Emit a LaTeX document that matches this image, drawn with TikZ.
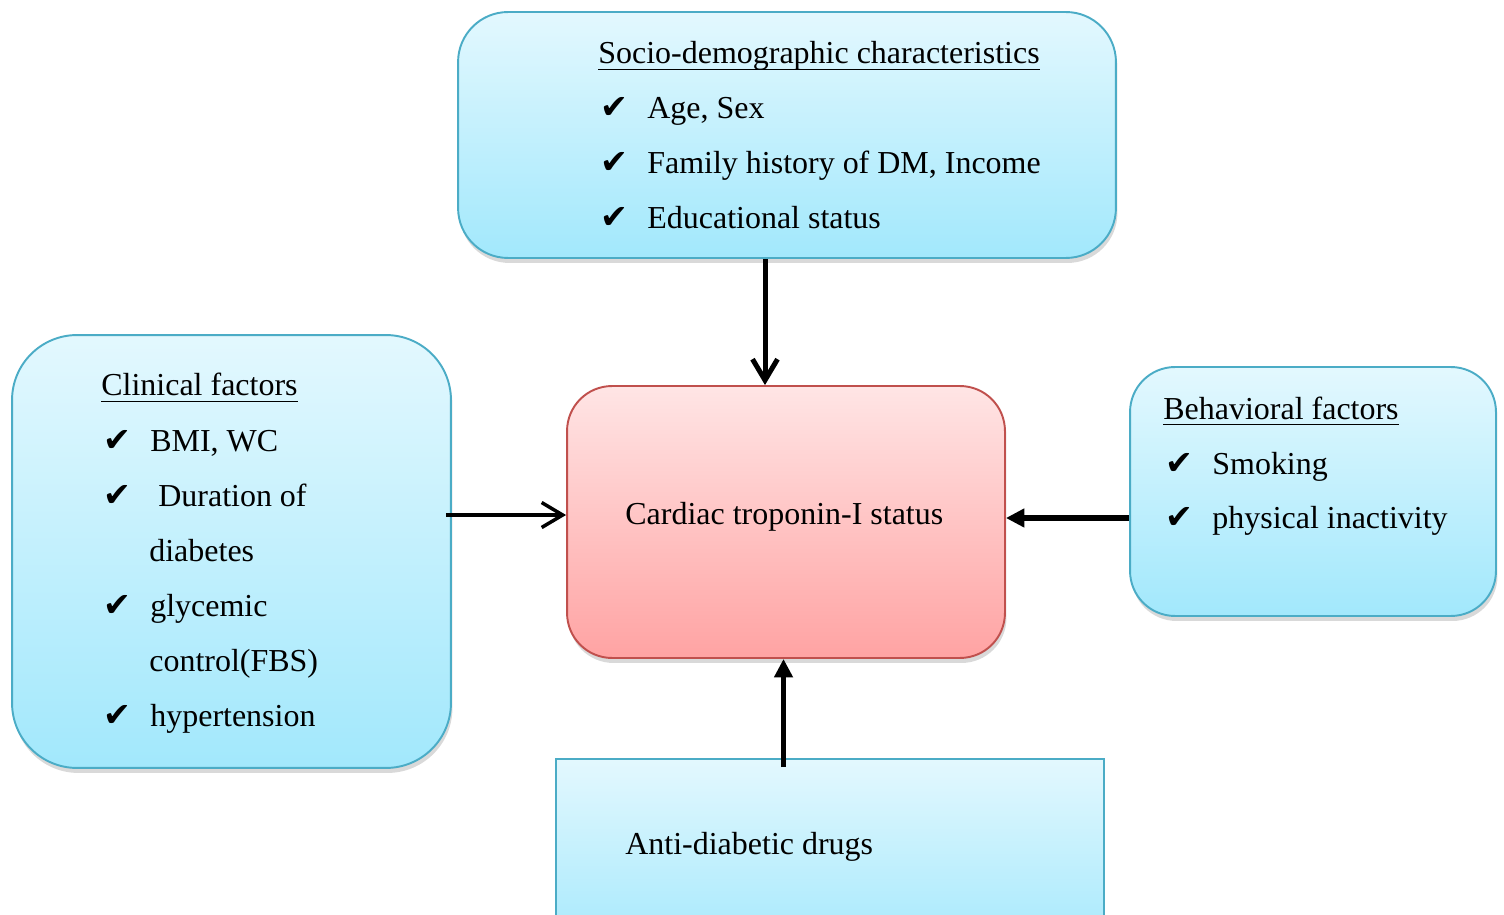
\documentclass[tikz,border=0pt]{standalone}
\usepackage{fontspec}
\setmainfont{Liberation Serif}
\newfontfamily\symf{DejaVu Sans}
\usetikzlibrary{arrows.meta,shadows}

\definecolor{bluetop}{HTML}{E3F8FE}
\definecolor{bluebot}{HTML}{A2E8FC}
\definecolor{blueline}{HTML}{4BACC6}
\definecolor{redtop}{HTML}{FFE5E5}
\definecolor{redbot}{HTML}{FFA3A3}
\definecolor{redline}{HTML}{C0504D}

\newcommand{\tick}{\makebox[0.94cm][l]{\fontsize{19}{19}\symf ✔}}
\newcommand{\hdline}[1]{\setbox0\hbox{#1}\rlap{\rule[-3.6pt]{\wd0}{0.9pt}}\box0}

\tikzset{
  bluebox/.style={draw=blueline, line width=1.1pt, top color=bluetop, bottom color=bluebot,
    drop shadow={shadow xshift=0.03cm, shadow yshift=-0.1cm, opacity=0.3}, inner sep=0},
  redbox/.style={draw=redline, line width=1.1pt, top color=redtop, bottom color=redbot,
    drop shadow={shadow xshift=0.03cm, shadow yshift=-0.1cm, opacity=0.3}, inner sep=0},
  txt/.style={anchor=base west, inner sep=0, font=\fontsize{18.2}{22}\selectfont},
  vhead/.style={-{Straight Barb[length=0.42cm,width=0.5cm]}},
  thead/.style={-{Triangle[length=0.37cm,width=0.36cm]}}
}

\begin{document}
\begin{tikzpicture}[x=0.02cm, y=-0.02cm]
    \clip (0,0) rectangle (1504,915);
    \node[bluebox, rounded corners=1cm, minimum width=13.16cm, minimum height=4.92cm] (socio) at (787,135) {};
    \node[bluebox, rounded corners=1.3cm, minimum width=8.78cm, minimum height=8.66cm] (clinical) at (231.5,551.5) {};
    \node[bluebox, rounded corners=0.9cm, minimum width=7.32cm, minimum height=4.98cm] (behav) at (1313,491.5) {};
    \node[redbox, rounded corners=0.9cm, minimum width=8.76cm, minimum height=5.44cm] (cardiac) at (786,522) {};
    \node[bluebox, minimum width=10.96cm, minimum height=4.02cm] (drugs) at (830,859.5) {};
    \coordinate (sociofoot) at ([xshift=-0.44cm]socio.south);
    \coordinate (clinfoot) at ([xshift=-0.12cm,yshift=0.73cm]clinical.east);
    \coordinate (behavfoot) at ([yshift=-0.53cm]behav.west);
    \coordinate (drugfoot) at ([xshift=-0.93cm,yshift=-0.18cm]drugs.north);
    \draw[line width=0.1cm, vhead] (sociofoot) -- (sociofoot |- cardiac.north);
    \draw[line width=0.07cm, vhead] (clinfoot) -- (clinfoot -| cardiac.west);
    \draw[line width=0.11cm, thead] (behavfoot) -- (behavfoot -| cardiac.east);
    \draw[line width=0.1cm, thead] (drugfoot) -- (drugfoot |- cardiac.south);
    \node[txt] (s0) at (598,64) {\hdline{Socio-demographic characteristics}};
    \node[txt] (s1) at (600,119) {\tick Age, Sex};
    \node[txt] (s2) at (600,174) {\tick Family history of DM, Income};
    \node[txt] (s3) at (600,229) {\tick Educational status};
    \node[txt] (c0) at (101,396) {\hdline{Clinical factors}};
    \node[txt] (c1) at (103,451) {\tick BMI, WC};
    \node[txt] (c2) at (103,506) {\tick\ Duration of};
    \node[txt] (c3) at (149,561) {diabetes};
    \node[txt] (c4) at (103,616) {\tick glycemic};
    \node[txt] (c5) at (149,671) {control(FBS)};
    \node[txt] (c6) at (103,726) {\tick hypertension};
    \node[txt] (b0) at (1163,419) {\hdline{Behavioral factors}};
    \node[txt] (b1) at (1165,474) {\tick Smoking};
    \node[txt] (b2) at (1165,528) {\tick physical inactivity};
    \node[txt] (ct) at (625,524) {Cardiac troponin-I status};
    \node[txt] (dr) at (625,854) {Anti-diabetic drugs};
\end{tikzpicture}
\end{document}
